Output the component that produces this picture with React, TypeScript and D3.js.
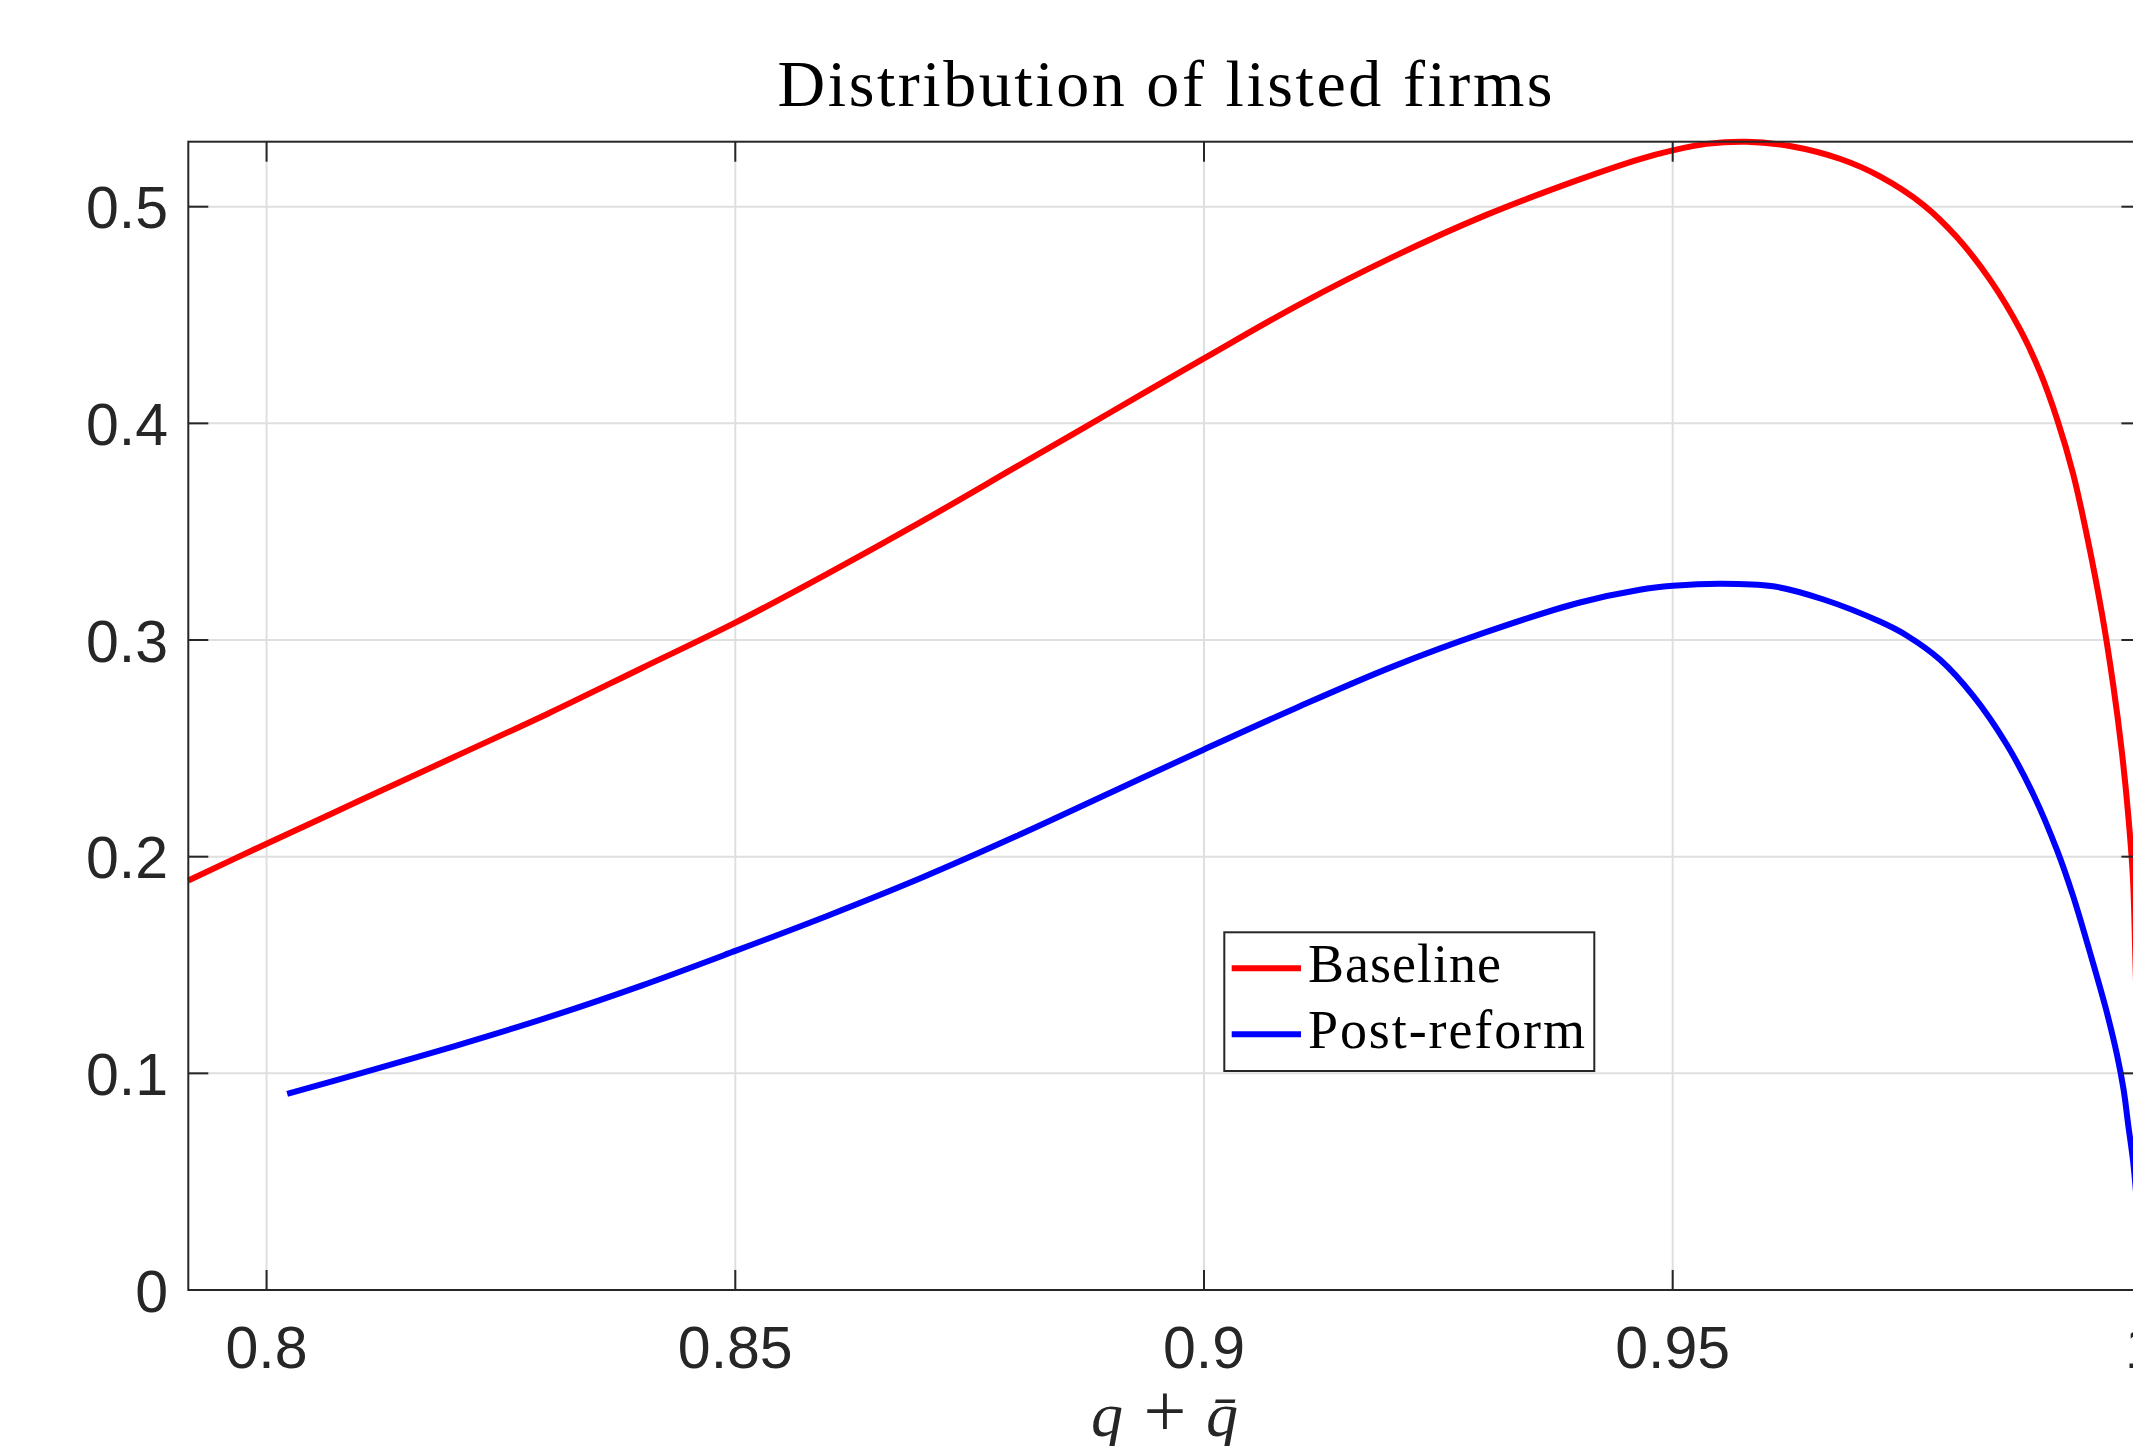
import { line, curveCatmullRom, scaleLinear, format } from "d3";

const W = 2133;
const H = 1446;
const box = { left: 188.3, right: 2141.4, top: 141.7, bottom: 1290 };

// x axis limits and ticks
const xDomain = [0.79165, 1];
const yDomain = [0, 0.53];
const xTicks = [0.8, 0.85, 0.9, 0.95, 1];
const yTicks = [0, 0.1, 0.2, 0.3, 0.4, 0.5];

const seriesNames = ["Baseline", "Post-reform"];
const seriesColors = ["#ff0000", "#0000ff"];

// Baseline distribution
const baselineQ = [
  0.79165, 0.8, 0.81, 0.82, 0.83, 0.84, 0.85, 0.86, 0.87, 0.88, 0.89, 0.9, 0.91,
  0.92, 0.93, 0.94, 0.9465, 0.95, 0.9536, 0.9579, 0.9625, 0.9679, 0.9721,
  0.9767, 0.9803, 0.9839, 0.9871, 0.9892, 0.991, 0.9927, 0.9942, 0.9958, 0.997,
  0.9979, 0.9986, 0.9991, 0.99937, 1.0,
];
const baselineDensity = [
  0.189, 0.206, 0.226, 0.246, 0.266, 0.287, 0.308, 0.331, 0.355, 0.38, 0.405,
  0.43, 0.4545, 0.4765, 0.496, 0.5125, 0.522, 0.526, 0.529, 0.53, 0.528, 0.522,
  0.514, 0.501, 0.486, 0.466, 0.443, 0.4235, 0.402, 0.377, 0.348, 0.312, 0.279,
  0.249, 0.219, 0.19, 0.151, 0.05,
];

// Post-reform distribution
const reformQ = [
  0.8022, 0.81, 0.82, 0.83, 0.84, 0.85, 0.86, 0.87, 0.88, 0.89, 0.9, 0.91, 0.92,
  0.93, 0.94, 0.9465, 0.95, 0.955, 0.9607, 0.9661, 0.9721, 0.975, 0.9785,
  0.9821, 0.9856, 0.9885, 0.991, 0.9927, 0.9945, 0.9962, 0.9974, 0.9981,
  0.9986, 0.9991, 0.99937, 1.0,
];
const reformDensity = [
  0.0905, 0.1, 0.1125, 0.1258, 0.1405, 0.1565, 0.173, 0.1905, 0.2095, 0.2295,
  0.2495, 0.269, 0.2875, 0.3035, 0.3172, 0.3232, 0.325, 0.326, 0.3248, 0.3187,
  0.3085, 0.302, 0.291, 0.274, 0.252, 0.2285, 0.203, 0.182, 0.156, 0.13,
  0.1085, 0.0925, 0.076, 0.06, 0.048, 0.015,
];

const axisColor = "#262626";
const gridColor = "#dfdfdf";
const sans = "'Liberation Sans', Arial, Helvetica, sans-serif";
const serif = "'Liberation Serif', 'Times New Roman', serif";

export default function App() {
  const x = scaleLinear().domain(xDomain).range([box.left, box.right]);
  const y = scaleLinear().domain(yDomain).range([box.bottom, box.top]);
  const fmt = format("~g");

  const path = line<number[]>()
    .x((d) => x(d[0]))
    .y((d) => y(d[1]))
    .curve(curveCatmullRom.alpha(0.5));

  const series = [
    baselineQ.map((q, i) => [q, baselineDensity[i]]),
    reformQ.map((q, i) => [q, reformDensity[i]]),
  ];

  const tick = 20;

  return (
    <svg
      width={W}
      height={H}
      style={{ position: "absolute", left: 0, top: 0, background: "#fff" }}
    >
      <rect x={0} y={0} width={W} height={H} fill="#fff" />

      {/* grid */}
      <g stroke={gridColor} strokeWidth={2}>
        {xTicks.map((t) => (
          <line key={"gx" + t} x1={x(t)} x2={x(t)} y1={box.top} y2={box.bottom} />
        ))}
        {yTicks.map((t) => (
          <line key={"gy" + t} x1={box.left} x2={box.right} y1={y(t)} y2={y(t)} />
        ))}
      </g>

      {/* data */}
      {series.map((s, i) => (
        <path
          key={seriesNames[i]}
          d={path(s) || ""}
          fill="none"
          stroke={seriesColors[i]}
          strokeWidth={6}
          strokeLinejoin="round"
        />
      ))}

      {/* box and ticks */}
      <rect
        x={box.left}
        y={box.top}
        width={box.right - box.left}
        height={box.bottom - box.top}
        fill="none"
        stroke={axisColor}
        strokeWidth={2}
      />
      <g stroke={axisColor} strokeWidth={2}>
        {xTicks.map((t) => (
          <g key={"tx" + t}>
            <line x1={x(t)} x2={x(t)} y1={box.bottom} y2={box.bottom - tick} />
            <line x1={x(t)} x2={x(t)} y1={box.top} y2={box.top + tick} />
          </g>
        ))}
        {yTicks.map((t) => (
          <g key={"ty" + t}>
            <line x1={box.left} x2={box.left + tick} y1={y(t)} y2={y(t)} />
            <line x1={box.right} x2={box.right - tick} y1={y(t)} y2={y(t)} />
          </g>
        ))}
      </g>

      {/* tick labels */}
      <g fill={axisColor} fontFamily={sans} fontSize={59}>
        {xTicks.map((t) => (
          <text key={"lx" + t} x={x(t)} y={1368} textAnchor="middle">
            {fmt(t)}
          </text>
        ))}
        {yTicks.map((t) => (
          <text key={"ly" + t} x={168} y={y(t) + 21.5} textAnchor="end">
            {fmt(t)}
          </text>
        ))}
      </g>

      {/* title */}
      <text
        x={1165}
        y={106}
        textAnchor="middle"
        fontFamily={serif}
        fontSize={66}
        textLength={775}
        lengthAdjust="spacing"
        fill="#000"
      >
        Distribution of listed firms
      </text>

      {/* x label: q + q-bar */}
      <g fontFamily={serif} fill={axisColor}>
        <text x={1091} y={1436} fontSize={64} fontStyle="italic">
          q
        </text>
        <text x={1165} y={1436} fontSize={76} textAnchor="middle">
          +
        </text>
        <text x={1206} y={1436} fontSize={64} fontStyle="italic">
          q̄
        </text>
      </g>

      {/* legend */}
      <g>
        <rect
          x={1224.3}
          y={932.3}
          width={370}
          height={138.7}
          fill="#fff"
          stroke={axisColor}
          strokeWidth={2}
        />
        {seriesNames.map((name, i) => (
          <g key={"lg" + name}>
            <line
              x1={1231.7}
              x2={1301}
              y1={968.3 + i * 66}
              y2={968.3 + i * 66}
              stroke={seriesColors[i]}
              strokeWidth={6}
            />
            <text
              x={1308}
              y={981.7 + i * 66}
              fontFamily={serif}
              fontSize={54}
              textLength={i === 0 ? 193 : 277}
              lengthAdjust="spacing"
              fill="#000"
            >
              {name}
            </text>
          </g>
        ))}
      </g>
    </svg>
  );
}
